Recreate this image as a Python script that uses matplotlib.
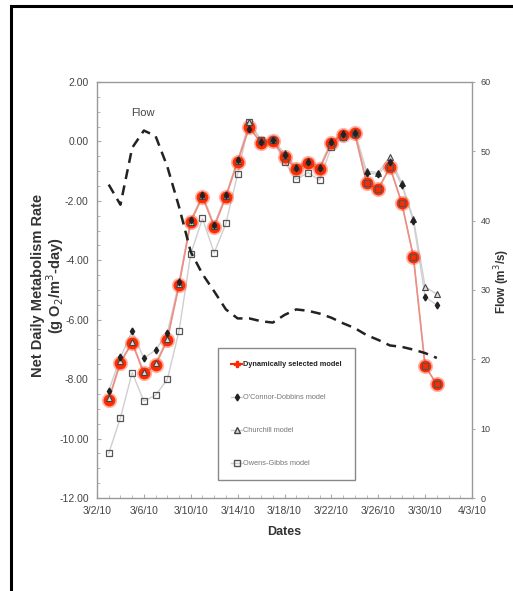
"""
Net daily metabolism by model, with stream flow on a second axis.
"""

import matplotlib
matplotlib.use("Agg")
import matplotlib.pyplot as plt
from matplotlib.lines import Line2D
from matplotlib.patches import Rectangle
from matplotlib.ticker import MultipleLocator, FormatStrFormatter
import matplotlib.dates as mdates
from datetime import datetime

NARROW = ["Liberation Sans Narrow", "Liberation Sans", "DejaVu Sans"]
BOLD = ["Liberation Sans", "DejaVu Sans"]

# data
dates = ["3/3/10", "3/4/10", "3/5/10", "3/6/10", "3/7/10", "3/8/10", "3/9/10",
         "3/10/10", "3/11/10", "3/12/10", "3/13/10", "3/14/10", "3/15/10",
         "3/16/10", "3/17/10", "3/18/10", "3/19/10", "3/20/10", "3/21/10",
         "3/22/10", "3/23/10", "3/24/10", "3/25/10", "3/26/10", "3/27/10",
         "3/28/10", "3/29/10", "3/30/10", "3/31/10"]
tick_dates = ["3/2/10", "3/6/10", "3/10/10", "3/14/10", "3/18/10", "3/22/10",
              "3/26/10", "3/30/10", "4/3/10"]

dynamic = [-8.70, -7.45, -6.77, -7.81, -7.53, -6.68, -4.83, -2.70, -1.86, -2.87,
           -1.86, -0.68, 0.49, -0.06, 0.03, -0.54, -0.92, -0.74, -0.93, -0.05,
           0.23, 0.28, -1.39, -1.60, -0.87, -2.06, -3.88, -7.56, -8.18]
oconnor = [-8.39, -7.27, -6.38, -7.30, -7.02, -6.44, -4.74, -2.65, -1.80, -2.80,
           -1.80, -0.62, 0.42, -0.02, 0.05, -0.45, -0.88, -0.68, -0.88, -0.02,
           0.25, 0.30, -1.07, -1.10, -0.68, -1.47, -2.68, -5.23, -5.51]
churchill = [-8.65, -7.40, -6.75, -7.75, -7.45, -6.65, -4.80, -2.70, -1.85, -2.85,
             -1.85, -0.65, 0.65, 0.00, 0.05, -0.40, -0.85, -0.65, -0.85, 0.00,
             0.28, 0.32, -1.00, -1.05, -0.51, -1.40, -2.60, -4.89, -5.14]
owens = [-10.50, -9.30, -7.78, -8.74, -8.54, -8.01, -6.38, -3.79, -2.59, -3.75,
         -2.76, -1.10, 0.66, 0.05, 0.05, -0.68, -1.28, -1.05, -1.30, -0.18,
         0.16, 0.24, -1.39, -1.60, -0.87, -2.06, -3.88, -7.56, -8.18]
flow = [45.2, 42.3, 50.5, 53.0, 52.2, 47.8, 42.0, 35.5, 32.3, 29.8,
        27.2, 25.9, 25.9, 25.5, 25.3, 26.4, 27.2, 27.0, 26.6, 26.0,
        25.2, 24.5, 23.5, 22.8, 22.0, 21.8, 21.4, 20.9, 20.2]

x = [datetime.strptime(d, "%m/%d/%y") for d in dates]
ticks = [datetime.strptime(d, "%m/%d/%y") for d in tick_dates]

fig = plt.figure(figsize=(5.13, 5.91), dpi=100)
ax = fig.add_axes([97 / 513, 1 - 498 / 591, 375 / 513, 416 / 591])

# outer black frame of the original figure (cropped at right / bottom)
fig.patches.append(Rectangle((11 / 513, -0.1), 1.2, 1.1 - 6 / 591, transform=fig.transFigure,
                             fill=False, edgecolor="black", linewidth=2.2))

grey_line = "#cfcfcf"
red = "#ff2a00"

ax.plot(x, owens, color=grey_line, lw=1, zorder=1)
ax.plot(x, churchill, color=grey_line, lw=1, zorder=1)
ax.plot(x, oconnor, color=grey_line, lw=1, zorder=1)
ax.plot(x, dynamic, color="#f08c80", lw=1.2, zorder=2)
ax.plot(x, dynamic, "o", color=red, ms=11, alpha=0.35, zorder=3, markeredgewidth=0)
ax.plot(x, dynamic, "o", color=red, ms=8.5, zorder=3, markeredgewidth=0)
ax.plot(x, owens, "s", mfc="none", mec="#555555", ms=4, mew=0.9, zorder=4)
ax.plot(x, churchill, "^", mfc="#dddddd", mec="#444444", ms=4, mew=0.8, zorder=5)
ax.plot(x, oconnor, "d", color="#222222", ms=3.5, zorder=6)

ax.set_xlim(ticks[0], ticks[-1])
ax.set_ylim(-12, 2)
ax.set_xticks(ticks)
ax.set_xticklabels(tick_dates)
ax.xaxis.set_minor_locator(mdates.DayLocator())
ax.yaxis.set_major_locator(MultipleLocator(2))
ax.yaxis.set_minor_locator(MultipleLocator(0.5))
ax.yaxis.set_major_formatter(FormatStrFormatter("%.2f"))

for lab in ax.get_xticklabels() + ax.get_yticklabels():
    lab.set_family(NARROW)
    lab.set_fontsize(7.5)
    lab.set_color("#444444")
ax.tick_params(axis="both", which="both", direction="in", color="#aaaaaa")
ax.tick_params(axis="both", which="major", length=3, pad=6)
ax.tick_params(axis="both", which="minor", length=2)
for s in ax.spines.values():
    s.set_color("#999999")
    s.set_linewidth(1)

ax.set_xlabel("Dates", family=BOLD, fontsize=9, fontweight="bold", color="#333333", labelpad=7)
ax.set_ylabel("Net Daily Metabolism Rate\n(g O$_2$/m$^3$-day)", family=BOLD, fontsize=10.5,
              fontweight="bold", color="#333333", linespacing=1.0)
ax.yaxis.set_label_coords(-0.082, 0.51)

# flow on the right axis
ax2 = ax.twinx()
ax2.plot(x, flow, color="#222222", lw=1.8, dashes=(4, 2.6), zorder=2)
ax2.set_ylim(0, 60)
ax2.yaxis.set_major_locator(MultipleLocator(10))
for lab in ax2.get_yticklabels():
    lab.set_family(NARROW)
    lab.set_fontsize(6.5)
    lab.set_color("#444444")
ax2.tick_params(axis="y", direction="out", length=2, color="#aaaaaa", pad=4)
for s in ax2.spines.values():
    s.set_visible(False)
ax2.set_ylabel("Flow (m$^3$/s)", family=BOLD, fontsize=8.5, fontweight="bold", color="#333333")
ax2.yaxis.set_label_coords(1.054, 0.52)
ax2.text(datetime(2010, 3, 5, 22), 54.8, "Flow", family=NARROW, fontsize=8, color="#444444",
         ha="center", va="bottom")

handles = [
    Line2D([], [], color=red, lw=1.5, marker="P", ms=5),
    Line2D([], [], color=grey_line, lw=1, marker="d", mfc="#222222", mec="#222222", ms=3.5),
    Line2D([], [], color=grey_line, lw=1, marker="^", mfc="#dddddd", mec="#444444", ms=4),
    Line2D([], [], color=grey_line, lw=1, marker="s", mfc="none", mec="#555555", ms=4),
]
labels = ["Dynamically selected model", "O'Connor-Dobbins model", "Churchill model",
          "Owens-Gibbs model"]
leg = ax.legend(handles, labels, loc="upper left", bbox_to_anchor=(218 / 513, 1 - 348 / 591),
                bbox_transform=fig.transFigure, fancybox=False, framealpha=1,
                edgecolor="#888888", fontsize=5.3, labelspacing=3.5, handlelength=1.5,
                handletextpad=0.1, borderpad=1.8, borderaxespad=0)
leg.get_frame().set_linewidth(1)
leg.set_zorder(10)
for i, t in enumerate(leg.get_texts()):
    t.set_family(NARROW)
    if i == 0:
        t.set_color("#222222")
        t.set_fontweight("bold")
    else:
        t.set_color("#777777")

fig.savefig("out.png", dpi=100)
